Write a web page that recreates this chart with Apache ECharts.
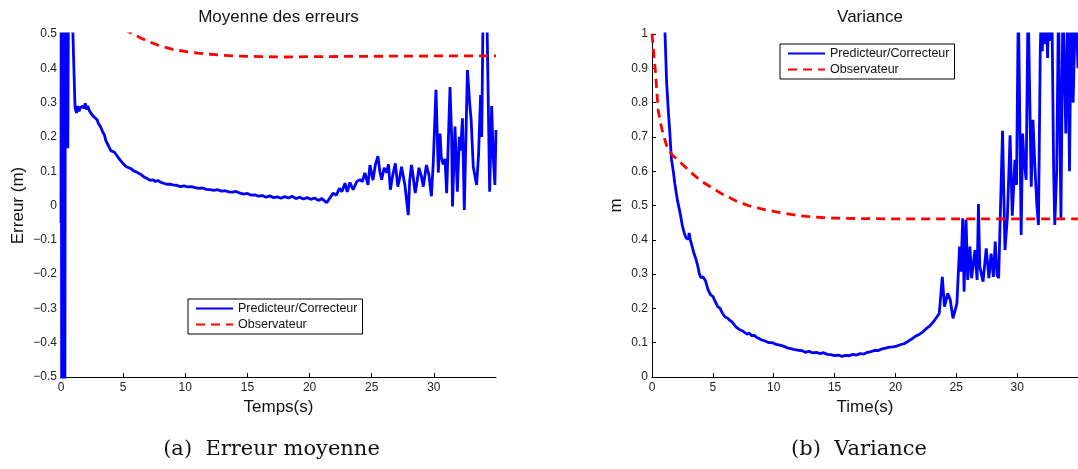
<!DOCTYPE html>
<html>
<head>
<meta charset="utf-8">
<title>Moyenne des erreurs / Variance</title>
<script src="https://cdn.jsdelivr.net/npm/echarts@6/dist/echarts.min.js"></script>
<style>
  html, body { margin: 0; padding: 0; background: #fff; }
  #chart { width: 1078px; height: 469px; }
</style>
</head>
<body>
<div id="chart"></div>
<script>
// noms des courbes
var serieNames = ['Predicteur/Correcteur', 'Observateur'];
var plotTitles = ['Moyenne des erreurs', 'Variance'];
var captions = ['(a)  Erreur moyenne', '(b)  Variance'];

// (a) erreur moyenne - predicteur/correcteur  [temps (s), erreur (m)]
var moyennePC = [
  [0.00,-0.05],[0.02,0.9],[0.06,-0.9],[0.12,0.9],[0.18,-0.9],[0.24,0.9],[0.30,-0.9],[0.36,0.9],
  [0.45,0.9],[0.55,0.167],[0.63,0.9],[0.80,0.7],[1.13,0.285],[1.25,0.27],[1.35,0.29],[1.45,0.275],
  [1.55,0.285],[1.65,0.28],[1.75,0.29],[1.85,0.283],[1.95,0.298],[2.05,0.28],[2.15,0.29],[2.3,0.275],
  [2.45,0.27],[2.6,0.26],[2.75,0.255],[2.9,0.25],[3.0,0.24],[3.1,0.237],[3.2,0.228],[3.35,0.215],
  [3.5,0.205],[3.6,0.19],[3.75,0.185],[3.85,0.172],[4.0,0.16],[4.15,0.163],[4.3,0.155],[4.45,0.148],
  [4.6,0.14],[4.75,0.133],[4.9,0.128],[5.05,0.12],[5.25,0.113],[5.45,0.11],[5.65,0.107],[5.85,0.101],
  [6.05,0.098],[6.25,0.094],[6.45,0.09],[6.65,0.084],[6.85,0.08],[7.0,0.078],[7.2,0.073],[7.4,0.075],
  [7.6,0.07],[7.8,0.073],[8.0,0.068],[8.25,0.065],[8.5,0.062],[8.75,0.062],[9.0,0.06],[9.3,0.059],
  [9.6,0.055],[9.9,0.057],[10.2,0.054],[10.5,0.055],[10.8,0.052],[11.1,0.05],[11.4,0.051],[11.7,0.047],
  [12.0,0.046],[12.3,0.044],[12.6,0.046],[12.9,0.042],[13.2,0.043],[13.5,0.04],[13.8,0.039],[14.1,0.041],
  [14.4,0.036],[14.7,0.033],[15.0,0.035],[15.3,0.03],[15.6,0.031],[15.9,0.027],[16.2,0.029],[16.5,0.024],
  [16.8,0.028],[17.1,0.023],[17.4,0.025],[17.7,0.021],[18.0,0.026],[18.3,0.022],[18.6,0.027],[18.9,0.02],
  [19.2,0.024],[19.5,0.019],[19.8,0.023],[20.1,0.018],[20.4,0.022],[20.7,0.015],[21.0,0.02],[21.37,0.008],
  [21.6,0.02],[21.9,0.036],[22.15,0.03],[22.4,0.05],[22.6,0.04],[22.85,0.065],[23.03,0.04],[23.25,0.067],
  [23.5,0.046],[23.8,0.07],[24.05,0.075],[24.25,0.07],[24.45,0.095],[24.7,0.06],[24.86,0.118],[25.1,0.074],
  [25.3,0.12],[25.5,0.144],[25.65,0.1],[25.8,0.075],[26.0,0.11],[26.2,0.096],[26.35,0.12],[26.5,0.046],
  [26.7,0.09],[26.9,0.123],[27.1,0.055],[27.25,0.08],[27.4,0.113],[27.67,0.06],[27.94,-0.028],[28.05,0.07],
  [28.2,0.118],[28.35,0.08],[28.5,0.036],[28.65,0.07],[28.8,0.11],[29.0,0.085],[29.15,0.055],[29.4,0.118],
  [29.6,0.09],[29.8,0.027],[29.95,0.123],[30.17,0.337],[30.36,0.096],[30.5,0.21],[30.6,0.14],[30.75,0.12],
  [30.9,0.136],[31.03,0.036],[31.3,0.345],[31.43,0.2],[31.5,-0.003],[31.7,0.23],[31.89,0.04],[32.05,0.2],
  [32.15,0.16],[32.3,0.254],[32.45,-0.013],[32.7,0.395],[32.9,0.29],[33.0,0.25],[33.17,0.113],[33.44,0.06],
  [33.6,0.15],[33.76,0.322],[33.85,0.2],[33.97,0.6],[34.25,0.6],[34.49,0.04],[34.65,0.29],[34.78,0.14],
  [34.91,0.06],[35.0,0.22]
];

// (a) erreur moyenne - observateur
var moyenneObs = [
  [0,0.95],[1,0.8],[2,0.68],[3,0.6],[4,0.55],[5,0.515],[5.8,0.5],[6.5,0.487],[7.2,0.476],
  [8,0.465],[9,0.455],[10,0.449],[11,0.444],[12,0.441],[13,0.438],[14,0.436],[16,0.434],
  [18,0.433],[20,0.434],[25,0.435],[30,0.436],[35,0.436]
];

// (b) variance - predicteur/correcteur  [temps (s), m]
var variancePC = [
  [1.0,1.15],[1.07,1.0],[1.2,0.86],[1.25,0.83],[1.35,0.77],[1.47,0.71],[1.55,0.66],[1.6,0.635],
  [1.65,0.64],[1.75,0.6],[1.87,0.565],[1.95,0.56],[2.0,0.535],[2.09,0.515],[2.2,0.51],[2.3,0.48],
  [2.4,0.46],[2.5,0.44],[2.65,0.42],[2.8,0.405],[2.9,0.41],[3.0,0.402],[3.05,0.42],[3.15,0.4],
  [3.3,0.38],[3.45,0.36],[3.6,0.345],[3.75,0.325],[3.9,0.3],[4.0,0.29],[4.2,0.292],[4.4,0.28],
  [4.6,0.255],[4.8,0.24],[5.0,0.235],[5.2,0.22],[5.4,0.205],[5.6,0.2],[5.8,0.185],[6.0,0.175],
  [6.2,0.172],[6.4,0.165],[6.6,0.16],[6.8,0.15],[7.0,0.143],[7.2,0.138],[7.4,0.135],[7.6,0.13],
  [7.8,0.125],[8.0,0.128],[8.2,0.12],[8.4,0.122],[8.6,0.115],[8.8,0.112],[9.0,0.108],[9.3,0.105],
  [9.6,0.1],[9.9,0.1],[10.2,0.095],[10.5,0.093],[10.8,0.09],[11.1,0.085],[11.4,0.083],[11.7,0.08],
  [12.0,0.078],[12.3,0.077],[12.6,0.072],[12.9,0.075],[13.2,0.07],[13.5,0.072],[13.8,0.068],[14.1,0.071],
  [14.4,0.066],[14.7,0.065],[15.0,0.062],[15.3,0.064],[15.6,0.06],[15.9,0.063],[16.2,0.062],[16.5,0.066],
  [16.8,0.064],[17.1,0.068],[17.4,0.067],[17.7,0.072],[18.0,0.074],[18.3,0.078],[18.6,0.077],[18.9,0.082],
  [19.2,0.084],[19.5,0.087],[19.8,0.088],[20.1,0.09],[20.4,0.094],[20.7,0.097],[21.0,0.103],[21.3,0.11],
  [21.6,0.118],[21.9,0.123],[22.2,0.13],[22.5,0.14],[22.8,0.148],[23.1,0.16],[23.4,0.175],[23.6,0.185],
  [23.85,0.292],[24.03,0.205],[24.3,0.244],[24.5,0.225],[24.73,0.171],[25.05,0.214],[25.27,0.38],[25.38,0.307],
  [25.53,0.463],[25.64,0.249],[25.8,0.458],[25.94,0.283],[26.12,0.38],[26.26,0.288],[26.53,0.37],[26.71,0.283],
  [26.82,0.504],[26.93,0.322],[27.2,0.278],[27.46,0.375],[27.68,0.288],[27.86,0.36],[28.05,0.292],[28.2,0.395],
  [28.35,0.297],[28.48,0.288],[28.6,0.45],[28.8,0.718],[29.0,0.37],[29.2,0.467],[29.42,0.705],[29.6,0.47],
  [29.82,0.633],[29.95,0.56],[30.1,1.1],[30.2,1.1],[30.33,0.414],[30.45,0.71],[30.55,0.64],[30.74,0.575],
  [30.9,1.1],[31.0,1.1],[31.16,0.555],[31.3,0.75],[31.45,0.62],[31.62,0.5],[31.75,0.443],[31.9,0.95],
  [32.0,1.1],[32.07,0.95],[32.15,1.1],[32.28,0.97],[32.4,1.1],[32.5,0.93],[32.6,1.1],[32.7,0.98],
  [32.85,1.1],[33.0,0.6],[33.09,0.443],[33.25,0.6],[33.4,1.1],[33.5,0.75],[33.6,0.463],[33.76,1.1],
  [33.9,1.1],[34.0,0.71],[34.15,1.1],[34.3,0.6],[34.45,1.1],[34.6,0.8],[34.8,1.1],[35.0,0.9]
];

// (b) variance - observateur
var varianceObs = [
  [0,1.0],[0.1,0.96],[0.27,0.895],[0.4,0.83],[0.5,0.78],[0.7,0.74],[0.9,0.71],[1.2,0.675],
  [1.6,0.65],[2.2,0.63],[2.8,0.61],[3.4,0.59],[4.1,0.57],[4.9,0.552],[5.7,0.535],[6.8,0.515],
  [7.9,0.5],[9.0,0.49],[10.1,0.482],[11.4,0.474],[12.7,0.468],[14,0.465],[15,0.463],[17,0.462],
  [20,0.461],[25,0.461],[30,0.461],[35,0.461]
];

var sans = 'Liberation Sans, Arial, Helvetica, sans-serif';
var serif = 'DejaVu Serif, Liberation Serif, serif';

function tickFmt(v) {
  return String(Math.round(v * 10) / 10).replace('-', '\u2212');
}

function makeX(idx, name) {
  return {
    type: 'value', gridIndex: idx, min: 0, max: 35, interval: 5,
    name: name, nameLocation: 'middle', nameGap: 20,
    nameTextStyle: { fontSize: 17, color: '#111', fontFamily: sans },
    axisLine: { onZero: false, lineStyle: { color: '#000', width: 1 } },
    axisTick: { inside: true, length: 4, lineStyle: { color: '#000' } },
    axisLabel: { fontSize: 12, color: '#222', fontFamily: sans, margin: 5, showMaxLabel: false },
    splitLine: { show: false }
  };
}

function makeY(idx, min, max, name, gap) {
  return {
    type: 'value', gridIndex: idx, min: min, max: max, interval: 0.1,
    name: name, nameLocation: 'middle', nameGap: gap,
    nameTextStyle: { fontSize: 17, color: '#111', fontFamily: sans },
    axisLine: { show: true, onZero: false, lineStyle: { color: '#000', width: 1 } },
    axisTick: { show: true, inside: true, length: 4, lineStyle: { color: '#000' } },
    axisLabel: { fontSize: 12, color: '#222', fontFamily: sans, margin: 4, formatter: tickFmt },
    splitLine: { show: false }
  };
}

function makeLine(name, data, idx, color, dashed) {
  return {
    name: name, type: 'line', xAxisIndex: idx, yAxisIndex: idx, data: data,
    symbol: 'none', showSymbol: false, clip: true, silent: true,
    lineStyle: { color: color, width: 2.8, type: dashed ? [9, 6] : 'solid' },
    itemStyle: { color: color }
  };
}

function makeLegend(left, top) {
  return {
    data: serieNames, orient: 'vertical', left: left, top: top,
    selectedMode: false, backgroundColor: '#fff',
    borderColor: '#000', borderWidth: 1, padding: [3, 5, 3, 7],
    itemWidth: 37, itemHeight: 12, itemGap: 3,
    // pas de symbole, seulement le trait
    itemStyle: { opacity: 0 },
    textStyle: { fontSize: 12.5, color: '#111', fontFamily: sans }
  };
}

function label(text, x, y, size, font) {
  return {
    type: 'text', x: x, y: y, silent: true,
    style: { text: text, fontSize: size, fontFamily: font, fill: '#111', align: 'center', verticalAlign: 'middle' }
  };
}

var chart = echarts.init(document.getElementById('chart'), null, { renderer: 'canvas' });

chart.setOption({
  animation: false,
  backgroundColor: '#fff',
  grid: [
    { left: 61, top: 34, width: 435, height: 343 },
    { left: 652, top: 34, width: 435, height: 343 }
  ],
  xAxis: [makeX(0, 'Temps(s)'), makeX(1, 'Time(s)')],
  yAxis: [makeY(0, -0.5, 0.5, 'Erreur (m)', 34), makeY(1, 0, 1, 'm', 27)],
  legend: [makeLegend(188, 299), makeLegend(780, 44)],
  series: [
    makeLine(serieNames[0], moyennePC, 0, '#0000ff', false),
    makeLine(serieNames[1], moyenneObs, 0, '#ff0000', true),
    makeLine(serieNames[0], variancePC, 1, '#0000ff', false),
    makeLine(serieNames[1], varianceObs, 1, '#ff0000', true)
  ],
  graphic: [
    label(plotTitles[0], 278.5, 17, 17, sans),
    label(plotTitles[1], 870, 17, 17, sans),
    label(captions[0], 271.5, 450, 21, serif),
    label(captions[1], 859, 450, 21, serif)
  ]
});

window.addEventListener('resize', function() {
  chart.resize();
});
</script>
</body>
</html>
